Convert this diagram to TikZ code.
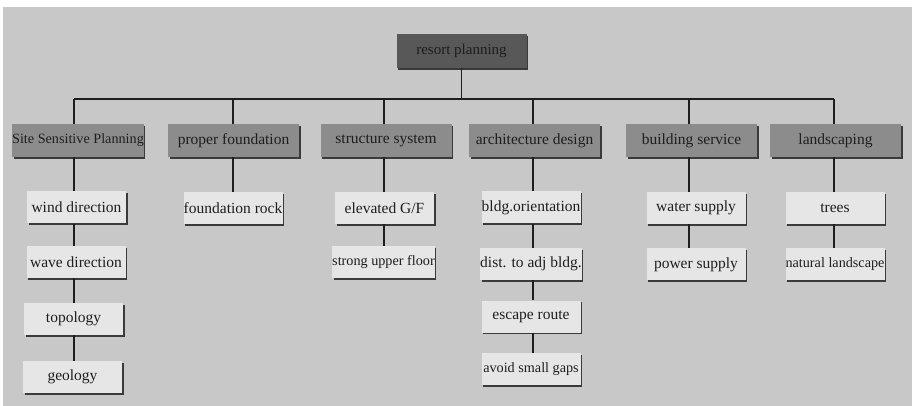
\documentclass[tikz,border=0pt]{standalone}
\usepackage{fontspec}
\setmainfont{Liberation Serif}
\usetikzlibrary{shadows}
\definecolor{bggray}{HTML}{C8C8C8}
\definecolor{rootgray}{HTML}{585858}
\definecolor{catgray}{HTML}{8C8C8C}
\definecolor{leafgray}{HTML}{E6E6E6}
\definecolor{inkgray}{HTML}{1E1E1E}
\definecolor{shadowgray}{HTML}{3A3A3A}
\begin{document}
\begin{tikzpicture}[x=1pt,y=-1pt,
  boxshadow/.style={drop shadow={shadow xshift=1.6pt,shadow yshift=-1.8pt,fill=shadowgray,opacity=1}},
  rootbox/.style={boxshadow,fill=rootgray,minimum width=130pt,minimum height=34pt,inner sep=0pt,text=inkgray,font=\fontsize{15}{17}\selectfont},
  catbox/.style={boxshadow,fill=catgray,minimum width=131pt,minimum height=33pt,inner sep=0pt,text=inkgray,font=\fontsize{15.5}{17}\selectfont},
  leafbox/.style={boxshadow,fill=leafgray,minimum width=99pt,minimum height=32pt,inner sep=0pt,text=inkgray,font=\fontsize{15.5}{17}\selectfont},
  smalltext/.style={font=\fontsize{14.2}{16}\selectfont},
  link/.style={draw=inkgray,line width=1.7pt}]
\useasboundingbox (0,0) rectangle (916,406);
\fill[white] (0,0) rectangle (916,406);
\fill[bggray] (3,7) rectangle (912,406);

% root
\node[rootbox] (root) at (461.5,51) {resort planning};

% categories
\node[catbox,smalltext] (c1) at (78,140.5) {Site Sensitive Planning};
\node[catbox] (c2) at (233.5,140.5) {proper foundation};
\node[catbox] (c3) at (386,140.5) {structure system};
\node[catbox] (c4) at (534.5,140.5) {architecture design};
\node[catbox] (c5) at (691.5,140.5) {building service};
\node[catbox] (c6) at (835.5,140.5) {landscaping};

% bus coordinates
\coordinate (b1) at (74,99);
\coordinate (b2) at (233,99);
\coordinate (b3) at (384,99);
\coordinate (b4) at (533,99);
\coordinate (b5) at (689,99);
\coordinate (b6) at (834,99);
\coordinate (broot) at (461.5,99);

% leaves
\node[leafbox] (l11) at (76.5,207.5) {wind direction};
\node[leafbox] (l12) at (76,262) {wave direction};
\node[leafbox] (l13) at (73.5,319) {topology};
\node[leafbox] (l14) at (72.5,377) {geology};

\node[leafbox] (l21) at (233,208) {foundation rock};

\node[leafbox] (l31) at (384.5,208) {elevated G/F};
\node[leafbox,smalltext] (l32) at (383.5,262) {strong upper floor};

\node[leafbox] (l41) at (531,207.5) {bldg.orientation};
\node[leafbox] (l42) at (531,264) {dist. to adj bldg.};
\node[leafbox] (l43) at (531,316.5) {escape route};
\node[leafbox,smalltext] (l44) at (531,369) {avoid small gaps};

\node[leafbox] (l51) at (696,208) {water supply};
\node[leafbox] (l52) at (696,264.5) {power supply};

\node[leafbox] (l61) at (835,208) {trees};
\node[leafbox,smalltext] (l62) at (835,264.5) {natural landscape};

% connectors
\begin{scope}[link]
\draw (root.south) -- (broot);
\draw (b1) -- (b6);
\foreach \k in {1,...,6}{\draw (b\k) -- (b\k |- c\k.north);}
\draw (c1.south -| b1) -- (l11.north -| b1);
\draw (l11.south -| b1) -- (l12.north -| b1);
\draw (l12.south -| b1) -- (l13.north -| b1);
\draw (l13.south -| b1) -- (l14.north -| b1);
\draw (c2.south -| b2) -- (l21.north -| b2);
\draw (c3.south -| b3) -- (l31.north -| b3);
\draw (l31.south -| b3) -- (l32.north -| b3);
\draw (c4.south -| b4) -- (l41.north -| b4);
\draw (l41.south -| b4) -- (l42.north -| b4);
\draw (l42.south -| b4) -- (l43.north -| b4);
\draw (l43.south -| b4) -- (l44.north -| b4);
\draw (c5.south -| b5) -- (l51.north -| b5);
\draw (l51.south -| b5) -- (l52.north -| b5);
\draw (c6.south -| b6) -- (l61.north -| b6);
\draw (l61.south -| b6) -- (l62.north -| b6);
\end{scope}
\end{tikzpicture}
\end{document}
